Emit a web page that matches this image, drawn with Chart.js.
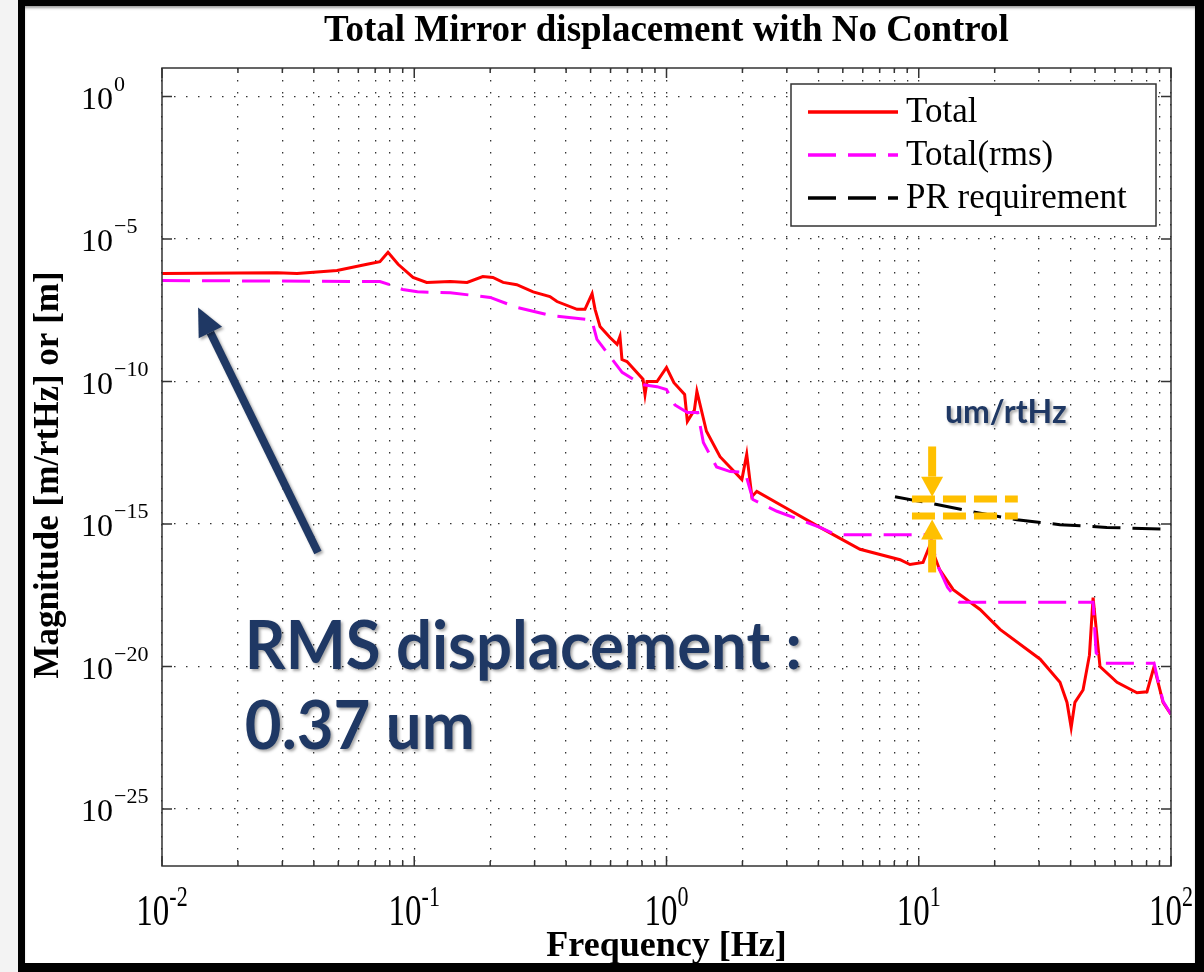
<!DOCTYPE html>
<html>
<head>
<meta charset="utf-8">
<title>Total Mirror displacement with No Control</title>
<script src="https://cdn.jsdelivr.net/npm/chart.js@4.4.1/dist/chart.umd.min.js"></script>
<style>
  body { margin: 0; background: #f3f3f3; }
  #wrap { position: relative; width: 1204px; height: 972px; overflow: hidden; }
  #chart { position: absolute; left: 0; top: 0; }
  #frame {
    position: absolute; left: 18px; top: 0; width: 1186px; height: 972px;
    box-sizing: border-box; border: solid #000; border-width: 6px 9px 9px 7px;
    box-shadow: inset 0 3px 3px -1px rgba(0,0,0,0.4);
    pointer-events: none;
  }
</style>
</head>
<body>
<div id="wrap">
  <canvas id="chart" width="1204" height="972"></canvas>
  <div id="frame"></div>
</div>
<script>
// values
const totalFreq = [0.01, 0.0286, 0.0343, 0.0494, 0.065, 0.0731, 0.0787, 0.0863, 0.0989, 0.112, 0.139, 0.162, 0.187, 0.205, 0.225, 0.255, 0.296, 0.345, 0.368, 0.442, 0.475, 0.507, 0.521, 0.545, 0.597, 0.637, 0.654, 0.666, 0.697, 0.807, 0.822, 0.837, 0.917, 1.0, 1.07, 1.18, 1.21, 1.29, 1.32, 1.44, 1.63, 1.99, 2.08, 2.18, 2.28, 3.0, 4.06, 5.85, 8.43, 9.23, 10.4, 11.1, 12.1, 13.7, 17.5, 21.0, 30.3, 36.3, 38.7, 40.2, 41.6, 44.8, 47.5, 49.1, 52.3, 61.1, 73.3, 80.3, 85.7, 93, 100];
const totalMag = [6.2e-7, 6.6e-7, 6.2e-7, 7.8e-7, 1.3e-6, 1.6e-6, 3.4e-6, 1.3e-6, 4.5e-7, 3.0e-7, 3.2e-7, 3.0e-7, 4.8e-7, 4.5e-7, 3.0e-7, 2.5e-7, 1.4e-7, 9.6e-8, 6.4e-8, 3.4e-8, 3.4e-8, 1.2e-7, 3.4e-8, 8.5e-9, 3.5e-9, 2.0e-9, 3.8e-9, 5.9e-10, 5.0e-10, 1.2e-10, 3.5e-11, 1.0e-10, 1.0e-10, 3.1e-10, 9.1e-11, 3.5e-11, 4.0e-12, 1.0e-11, 4.5e-11, 1.8e-12, 2.3e-13, 3.6e-14, 2.8e-13, 9.1e-15, 1.4e-14, 3.5e-15, 7.6e-16, 1.3e-16, 5.6e-17, 3.8e-17, 4.5e-17, 1.9e-16, 2.5e-17, 5.0e-18, 1.0e-18, 2.0e-19, 1.8e-20, 2.8e-21, 5.5e-22, 7.2e-23, 5.5e-22, 1.5e-21, 2.5e-20, 2.6e-18, 1.0e-20, 2.8e-21, 1.2e-21, 1.3e-21, 1.0e-20, 5.5e-22, 2.1e-22];

const rmsFreq = [0.01, 0.0731, 0.08, 0.09, 0.103, 0.139, 0.2, 0.255, 0.345, 0.484, 0.507, 0.53, 0.61, 0.667, 0.8, 0.917, 1.0, 1.08, 1.21, 1.33, 1.4, 1.58, 1.79, 2.05, 2.2, 2.74, 4.06, 4.6, 5.0, 11.1, 11.8, 13, 14.5, 49.1, 50.5, 55, 85.7, 88, 93, 100];
const rmsMag = [3.5e-7, 3.2e-7, 2.5e-7, 1.7e-7, 1.4e-7, 1.3e-7, 8.9e-8, 4.0e-8, 2.1e-8, 1.5e-8, 1.3e-8, 3.0e-9, 5.9e-10, 2.1e-10, 7.8e-11, 6.6e-11, 5.2e-11, 1.5e-11, 8.1e-12, 8.1e-12, 7.2e-13, 1.0e-13, 6.9e-14, 6.5e-14, 7.2e-15, 2.8e-15, 7.6e-16, 4.6e-16, 4.2e-16, 4.2e-16, 4.0e-17, 6.0e-18, 1.8e-18, 1.8e-18, 3.0e-20, 1.3e-20, 1.3e-20, 4.5e-21, 6.0e-22, 2.1e-22];

const reqFreq = [8.05, 11.8, 16.0, 24.5, 36.3, 55.7, 100];
const reqMag = [9.1e-15, 4.8e-15, 2.8e-15, 1.4e-15, 9.5e-16, 7.6e-16, 6.5e-16];

const seriesNames = ['Total', 'Total(rms)', 'PR requirement'];
const xTickExps = [-2, -1, 0, 1, 2];
const yTickExps = [0, -5, -10, -15, -20, -25];

const serif = '"Liberation Serif", "Times New Roman", serif';
const navy = '#1f3864';
const orange = '#ffc000';

// grid at 1..9 of every decade on x, every 5 decades on y
const xGrid = [];
for (let e = -2; e < 2; e++) {
    for (let m = 1; m < 10; m++) xGrid.push(Number((m * Math.pow(10, e)).toPrecision(3)));
}
xGrid.push(100);
const yGrid = yTickExps.map(e => Math.pow(10, e));

const toPoints = (xs, ys) => xs.map((f, i) => ({x: f, y: ys[i]}));

function arrow(ctx, x0, y0, x1, y1, width, headLen, headHalf, color) {
    const a = Math.atan2(y1 - y0, x1 - x0);
    const bx = x1 - headLen * Math.cos(a), by = y1 - headLen * Math.sin(a);
    ctx.strokeStyle = color;
    ctx.fillStyle = color;
    ctx.lineWidth = width;
    ctx.lineCap = 'butt';
    ctx.setLineDash([]);
    ctx.beginPath();
    ctx.moveTo(x0, y0);
    ctx.lineTo(bx, by);
    ctx.stroke();
    ctx.beginPath();
    ctx.moveTo(x1, y1);
    ctx.lineTo(bx + headHalf * Math.sin(a), by - headHalf * Math.cos(a));
    ctx.lineTo(bx - headHalf * Math.sin(a), by + headHalf * Math.cos(a));
    ctx.closePath();
    ctx.fill();
}

const paper = {
    id: 'paper',
    beforeDraw(chart) {
        const ctx = chart.ctx;
        ctx.save();
        ctx.fillStyle = '#fff';
        ctx.fillRect(18, 0, 1186, 972);
        ctx.restore();
    }
};

const decorations = {
    id: 'decorations',
    afterDraw(chart) {
        const ctx = chart.ctx;
        const {left, right, top, bottom} = chart.chartArea;
        const xs = chart.scales.x, ys = chart.scales.y;
        const X = v => xs.getPixelForValue(v);
        const Y = v => ys.getPixelForValue(v);
        ctx.save();

        // axes box and inner ticks
        ctx.strokeStyle = '#333';
        ctx.lineWidth = 1.5;
        ctx.strokeRect(left, top, right - left, bottom - top);
        ctx.beginPath();
        xGrid.forEach(v => {
            const px = X(v);
            const len = Number.isInteger(Math.log10(v)) ? 10 : 5;
            ctx.moveTo(px, bottom); ctx.lineTo(px, bottom - len);
            ctx.moveTo(px, top); ctx.lineTo(px, top + len);
        });
        yGrid.forEach(v => {
            const py = Y(v);
            ctx.moveTo(left, py); ctx.lineTo(left + 10, py);
            ctx.moveTo(right, py); ctx.lineTo(right - 10, py);
        });
        ctx.stroke();

        // tick labels 10^n (x ones are drawn tall and narrow like the original)
        ctx.fillStyle = '#000';
        ctx.textBaseline = 'alphabetic';
        ctx.textAlign = 'left';
        xTickExps.forEach(e => {
            const px = X(Math.pow(10, e));
            ctx.font = '33px ' + serif;
            const wb = ctx.measureText('10').width;
            ctx.font = '22px ' + serif;
            const ex = String(e);
            const we = ctx.measureText(ex).width;
            const x0 = px - (wb + we) / 2;
            ctx.save();
            ctx.translate(x0, bottom + 59);
            ctx.scale(1, 1.35);
            ctx.font = '33px ' + serif;
            ctx.fillText('10', 0, 0);
            ctx.font = '22px ' + serif;
            ctx.fillText(ex, wb, -14);
            ctx.restore();
        });
        yTickExps.forEach(e => {
            const py = Y(Math.pow(10, e));
            ctx.font = '32px ' + serif;
            ctx.textAlign = 'right';
            ctx.fillText('10', left - 49, py + 12);
            ctx.font = '22px ' + serif;
            ctx.textAlign = 'left';
            ctx.fillText(String(e).replace('-', '\u2212'), left - 48, py - 6);
        });

        // titles
        ctx.textAlign = 'center';
        ctx.font = 'bold 37px ' + serif;
        ctx.fillText('Total Mirror displacement with No Control', (left + right) / 2, 41);
        ctx.font = 'bold 36px ' + serif;
        ctx.fillText('Frequency [Hz]', (left + right) / 2, 956);
        ctx.save();
        ctx.translate(58, (top + bottom) / 2 + 8);
        ctx.rotate(-Math.PI / 2);
        ctx.font = 'bold 35px ' + serif;
        ctx.fillText('Magnitude [m/rtHz] or [m]', 0, 0);
        ctx.restore();

        // legend
        const lx = right - 380, ly = top + 16, lw = 365, lh = 142;
        ctx.fillStyle = '#fff';
        ctx.fillRect(lx, ly, lw, lh);
        ctx.strokeStyle = '#333';
        ctx.lineWidth = 1.5;
        ctx.strokeRect(lx, ly, lw, lh);
        chart.data.datasets.forEach((ds, i) => {
            const yy = ly + 28 + i * 43;
            ctx.strokeStyle = ds.borderColor;
            ctx.lineWidth = 3.5;
            ctx.setLineDash(ds.borderDash || []);
            ctx.beginPath();
            ctx.moveTo(lx + 17, yy);
            ctx.lineTo(lx + 107, yy);
            ctx.stroke();
            ctx.setLineDash([]);
            ctx.fillStyle = '#000';
            ctx.textAlign = 'left';
            ctx.textBaseline = 'middle';
            ctx.font = '35px ' + serif;
            ctx.fillText(ds.label, lx + 115, yy + 1);
        });
        ctx.textBaseline = 'alphabetic';

        // orange marker around the requirement at ~11 Hz
        const fx = X(11.3);
        ctx.strokeStyle = orange;
        ctx.lineWidth = 7;
        ctx.setLineDash([23, 8]);
        [Math.pow(10, -14.12), Math.pow(10, -14.72)].forEach(v => {
            ctx.beginPath();
            ctx.moveTo(X(9.4), Y(v));
            ctx.lineTo(X(24.7), Y(v));
            ctx.stroke();
        });
        arrow(ctx, fx, Y(Math.pow(10, -12.28)), fx, Y(Math.pow(10, -14.04)), 8, 20, 11, orange);
        arrow(ctx, fx, Y(Math.pow(10, -16.7)), fx, Y(Math.pow(10, -14.84)), 8, 20, 11, orange);

        // navy annotation
        ctx.shadowColor = 'rgba(0,0,0,0.35)';
        ctx.shadowOffsetX = 2;
        ctx.shadowOffsetY = 2;
        ctx.shadowBlur = 3;
        arrow(ctx, X(0.0415), Y(1e-16), X(0.0139), Y(Math.pow(10, -7.4)), 8, 28, 13, navy);

        ctx.fillStyle = navy;
        ctx.textAlign = 'left';
        ctx.font = 'bold 66px Lato';
        const w1 = ctx.measureText('RMS displacement :').width;
        const s = 557 / w1;
        const tx = X(0.0213);
        [['RMS displacement :', Math.pow(10, -20.1)], ['0.37 um', Math.pow(10, -22.9)]].forEach(([t, v]) => {
            ctx.save();
            ctx.translate(tx, Y(v));
            ctx.scale(s, 1);
            ctx.fillText(t, 0, 0);
            ctx.restore();
        });
        ctx.font = 'bold 32px Lato';
        ctx.fillText('um/rtHz', X(12.7), Y(Math.pow(10, -11.44)));
        ctx.restore();
    }
};

const ctx = document.getElementById('chart').getContext('2d');
new Chart(ctx, {
    type: 'line',
    data: {
        datasets: [{
            label: seriesNames[0],
            data: toPoints(totalFreq, totalMag),
            borderColor: '#ff0000',
            borderWidth: 3,
            pointRadius: 0,
            order: 2
        }, {
            label: seriesNames[1],
            data: toPoints(rmsFreq, rmsMag),
            borderColor: '#ff00ff',
            borderWidth: 3,
            borderDash: [28, 12],
            pointRadius: 0,
            order: 1
        }, {
            label: seriesNames[2],
            data: toPoints(reqFreq, reqMag),
            borderColor: '#000000',
            borderWidth: 3,
            borderDash: [28, 12],
            pointRadius: 0,
            order: 0
        }]
    },
    options: {
        responsive: false,
        animation: false,
        devicePixelRatio: 1,
        layout: {padding: {left: 162, right: 33, top: 68, bottom: 106}},
        plugins: {
            legend: {display: false},
            title: {display: false},
            tooltip: {enabled: false}
        },
        scales: {
            x: {
                type: 'logarithmic',
                min: 0.01,
                max: 100,
                afterBuildTicks: scale => { scale.ticks = xGrid.map(v => ({value: v})); },
                ticks: {display: false},
                grid: {color: '#333', lineWidth: 1.3, drawTicks: false},
                border: {display: false, dash: [1.5, 10.5]}
            },
            y: {
                type: 'logarithmic',
                min: 1e-27,
                max: 10,
                afterBuildTicks: scale => { scale.ticks = yGrid.map(v => ({value: v})); },
                ticks: {display: false},
                grid: {color: '#333', lineWidth: 1.3, drawTicks: false},
                border: {display: false, dash: [1.5, 10.5]}
            }
        }
    },
    plugins: [paper, decorations]
});
</script>
</body>
</html>
